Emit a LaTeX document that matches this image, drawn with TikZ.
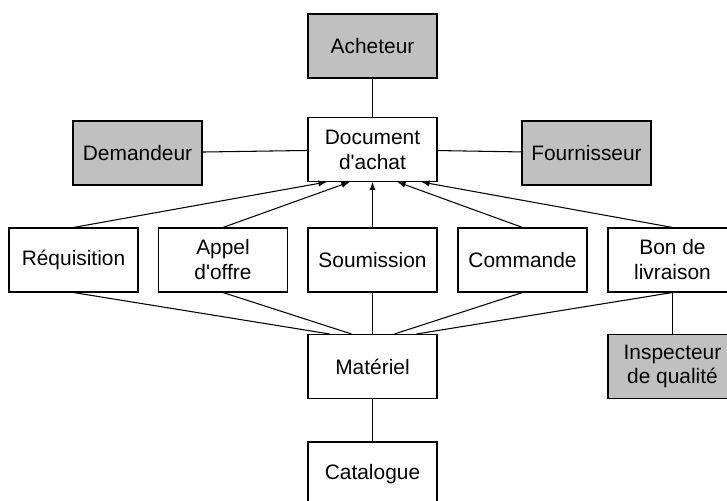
\documentclass[tikz,border=0pt]{standalone}
\usepackage{fontspec}
\setmainfont{Liberation Sans}
\definecolor{boxgray}{RGB}{192,192,192}

\begin{document}
\begin{tikzpicture}[
    box/.style={draw, line width=0.6pt, minimum width=2.58cm, minimum height=1.28cm,
      inner sep=0pt, align=center, font=\fontsize{11.9}{14.2}\selectfont},
    actor/.style={box, fill=boxgray},
    link/.style={line width=0.6pt}
  ]
        \useasboundingbox (0,0) rectangle (14.54,10.02);

        % Actors and central document
        \node[actor] (acheteur) at (7.45,9.1) {Acheteur};
        \node[box] (document) at (7.45,7.03) {Document\\d\textquotesingle achat};
        \node[actor] (demandeur) at (2.75,6.96) {Demandeur};
        \node[actor] (fournisseur) at (11.73,6.96) {Fournisseur};

        % Row of documents
        \node[box] (requisition) at (1.47,4.82) {Réquisition};
        \node[box] (appel) at (4.46,4.82) {Appel\\d\textquotesingle offre};
        \node[box] (soumission) at (7.45,4.82) {Soumission};
        \node[box] (commande) at (10.45,4.82) {Commande};
        \node[box] (bon) at (13.45,4.82) {Bon de\\livraison};

        % Material, inspector and catalogue
        \node[box] (materiel) at (7.45,2.69) {Matériel};
        \node[actor] (inspecteur) at (13.45,2.69) {Inspecteur\\de qualité};
        \node[box] (catalogue) at (7.45,0.54) {Catalogue};

        % Links to the document
        \draw[link] (acheteur) -- (document);
        \draw[link] (demandeur) -- (document);
        \draw[link] (fournisseur) -- (document);

        % Arrows up to the document
        \draw[link, -latex] (requisition.north) -- ([xshift=-0.92cm]document.south);
        \draw[link, -latex] (appel.north) -- ([xshift=-0.46cm]document.south);
        \draw[link, -latex] (soumission.north) -- (document.south);
        \draw[link, -latex] (commande.north) -- ([xshift=0.5cm]document.south);
        \draw[link, -latex] (bon.north) -- ([xshift=0.98cm]document.south);

        % Lines down to the material
        \draw[link] (requisition.south) -- ([xshift=-0.86cm]materiel.north);
        \draw[link] (appel.south) -- ([xshift=-0.42cm]materiel.north);
        \draw[link] (soumission.south) -- (materiel.north);
        \draw[link] (commande.south) -- ([xshift=0.44cm]materiel.north);
        \draw[link] (bon.south) -- ([xshift=0.88cm]materiel.north);

        \draw[link] (bon) -- (inspecteur);
        \draw[link] (materiel) -- (catalogue);
    \end{tikzpicture}
\end{document}
